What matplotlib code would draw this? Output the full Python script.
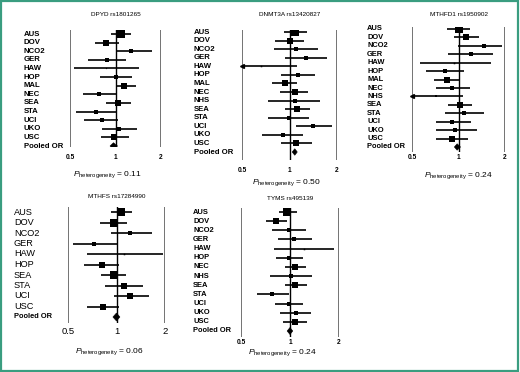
import matplotlib
matplotlib.use('Agg')
import matplotlib.pyplot as plt
from matplotlib.patches import Rectangle

plt.rcParams['font.family'] = ['Liberation Sans', 'DejaVu Sans']
plt.rcParams['mathtext.fontset'] = 'custom'
plt.rcParams['mathtext.rm'] = 'Liberation Sans'
plt.rcParams['mathtext.it'] = 'Liberation Sans:italic'

W, H = 520, 372

# ---- data ----
dpyd_names = ['AUS', 'DOV', 'NCO2', 'GER', 'HAW', 'HOP', 'MAL', 'NEC', 'SEA', 'STA', 'UCI', 'UKO', 'USC']
dpyd_or = [1.08, 0.87, 1.27, 0.88, 0.87, 1.00, 1.13, 0.78, 1.04, 0.74, 0.81, 1.05, 0.98]
dpyd_lo = [0.93, 0.73, 1.00, 0.66, 0.53, 0.79, 1.00, 0.61, 0.87, 0.55, 0.62, 0.81, 0.80]
dpyd_hi = [1.27, 1.06, 1.75, 1.18, 1.43, 1.29, 1.37, 1.00, 1.26, 1.00, 1.04, 1.39, 1.22]
dpyd_wt = [6, 5, 3.3, 3, 1, 3.7, 4.7, 4, 5.3, 3.7, 3.7, 3.3, 4.3]
dpyd_pooled = [0.97, 0.92, 1.03]

dnmt_names = ['AUS', 'DOV', 'NCO2', 'GER', 'HAW', 'HOP', 'MAL', 'NEC', 'NHS', 'SEA', 'STA', 'UCI', 'UKO', 'USC']
dnmt_or = [1.09, 1.00, 1.10, 1.28, 0.66, 1.13, 0.93, 1.08, 1.08, 1.12, 0.99, 1.41, 0.91, 1.10]
dnmt_lo = [0.92, 0.81, 0.80, 0.94, 0.45, 0.88, 0.77, 0.87, 0.73, 0.93, 0.73, 1.10, 0.67, 0.88]
dnmt_hi = [1.29, 1.23, 1.51, 1.74, 1.11, 1.46, 1.12, 1.31, 1.57, 1.35, 1.33, 1.87, 1.21, 1.38]
dnmt_wt = [6, 5, 3, 3.3, 1.3, 3.7, 5, 4.3, 2.7, 5.7, 3.7, 4, 3.7, 4.3]
dnmt_pooled = [1.08, 1.04, 1.12]

mthfd_names = ['AUS', 'DOV', 'NCO2', 'GER', 'HAW', 'HOP', 'MAL', 'NEC', 'NHS', 'SEA', 'STA', 'UCI', 'UKO', 'USC']
mthfd_or = [1.00, 1.11, 1.47, 1.21, 0.94, 0.82, 0.84, 0.91, 0.71, 1.02, 1.09, 0.91, 0.95, 0.91]
mthfd_lo = [0.84, 0.93, 0.99, 0.86, 0.56, 0.62, 0.69, 0.72, 0.45, 0.86, 0.82, 0.71, 0.72, 0.72]
mthfd_hi = [1.19, 1.35, 1.92, 1.66, 1.62, 1.08, 1.02, 1.19, 1.07, 1.23, 1.46, 1.21, 1.31, 1.15]
mthfd_wt = [6, 5.3, 3.3, 3.3, 1.3, 3.7, 5, 4, 2.3, 5.7, 3.3, 4, 4, 4.3]
mthfd_pooled = [0.98, 0.94, 1.03]

mthfs_names = ['AUS', 'DOV', 'NCO2', 'GER', 'HAW', 'HOP', 'SEA', 'STA', 'UCI', 'USC']
mthfs_or = [1.07, 0.96, 1.22, 0.73, 1.12, 0.81, 0.96, 1.11, 1.22, 0.83]
mthfs_lo = [0.92, 0.79, 0.92, 0.54, 0.66, 0.63, 0.80, 0.85, 0.96, 0.66]
mthfs_hi = [1.25, 1.17, 1.65, 1.00, 1.93, 1.04, 1.15, 1.46, 1.58, 1.03]
mthfs_wt = [6.7, 6, 3.7, 3.3, 1.3, 4.7, 6, 4.3, 4.7, 5]
mthfs_pooled = [1.00, 0.95, 1.05]

tyms_names = ['AUS', 'DOV', 'NCO2', 'GER', 'HAW', 'HOP', 'NEC', 'NHS', 'SEA', 'STA', 'UCI', 'UKO', 'USC']
tyms_or = [0.96, 0.82, 0.99, 1.06, 1.22, 0.99, 1.08, 1.01, 1.08, 0.77, 0.98, 1.09, 1.07]
tyms_lo = [0.85, 0.71, 0.77, 0.84, 0.80, 0.82, 0.93, 0.75, 0.93, 0.63, 0.81, 0.87, 0.91]
tyms_hi = [1.10, 0.96, 1.26, 1.37, 1.86, 1.21, 1.26, 1.36, 1.28, 0.98, 1.21, 1.35, 1.28]
tyms_wt = [6.7, 5.7, 3, 3.3, 1.3, 4, 5.3, 2.7, 5.7, 4, 3.7, 4, 5]
tyms_pooled = [1.00, 0.96, 1.04]

titles = ['DPYD rs1801265', 'DNMT3A rs13420827', 'MTHFD1 rs1950902', 'MTHFS rs17284990', 'TYMS rs495139']
p_het = ['0.11', '0.50', '0.24', '0.06', '0.24']
ticks = [0.5, 1, 2]

# layout in pixels: x(0.5), x(2), line top, line bottom, first row y, last row y,
# label x, tick y, title y, p-het centre x, p-het y, label size, label weight, tick size
layout = [
    (70, 161, 30, 147, 34, 146, 24, 157, 15, 107, 175, 5.6, 'bold', 4.8),
    (242, 337, 30, 160, 32, 152, 194, 170, 15, 286, 183, 5.6, 'bold', 4.8),
    (412, 505, 27, 152, 29, 147, 367, 157, 15, 458, 176, 5.4, 'bold', 4.8),
    (68, 165, 207, 323, 212, 317, 14, 332, 197, 109, 352, 6.6, 'normal', 6.8),
    (241, 339, 208, 337, 212, 331, 193, 342, 198, 282, 353, 5.4, 'bold', 4.8),
]


def fx(x):
    return x / W


def fy(y):
    return 1 - y / H


def draw_panel(fig, names, est, lo, hi, wt, pooled, title, phet, lay):
    x05, x2, top, bot, r0, r1, lab_x, tick_y, title_y, px, py, lsize, lweight, tsize = lay
    ax = fig.add_axes([fx(x05), fy(bot), (x2 - x05) / W, (bot - top) / H])
    ax.set_xscale('log')
    ax.set_xlim(0.5, 2)
    n = len(names) + 1
    step = (r1 - r0) / (n - 1)
    ax.set_ylim((bot - r0) / step, (top - r0) / step)
    ax.axis('off')
    ax.axvline(0.5, color='#4d4d4d', lw=1.1)
    ax.axvline(2, color='#4d4d4d', lw=1.1)
    ax.axvline(1, color='black', lw=1.0)

    for i in range(len(names)):
        a = max(lo[i], 0.5)
        b = min(hi[i], 2)
        ax.plot([a, b], [i, i], color='black', lw=1.2, solid_capstyle='butt')
        if lo[i] < 0.5:
            ax.plot(0.5, i, marker='<', ms=2.8, color='black', clip_on=False)
        ax.plot(est[i], i, marker='s', ms=wt[i] * 0.85, color='black', mec='black', mew=0)
        fig.text(fx(lab_x), fy(r0 + i * step), names[i], fontsize=lsize,
                 fontweight=lweight, va='center', ha='left')

    # pooled diamond
    k = len(names)
    p, plo, phi = pooled
    ax.fill([plo, p, phi, p], [k, k - 0.38, k, k + 0.38], color='black', lw=0.4)
    fig.text(fx(lab_x), fy(r0 + k * step), 'Pooled OR', fontsize=5.4 if lweight == 'normal' else lsize,
             fontweight='bold', va='center', ha='left')

    for t in ticks:
        xt = x05 + (x2 - x05) * (0.5 if t == 1 else (0 if t == 0.5 else 1))
        fig.text(fx(xt), fy(tick_y), str(t), fontsize=tsize, fontweight=lweight,
                 ha='center', va='center')

    fig.text(fx((x05 + x2) / 2), fy(title_y), title, fontsize=4.6, ha='center', va='center')
    fig.text(fx(px), fy(py), r'$P_{\mathrm{heterogeneity}}$ = ' + phet, fontsize=6,
             ha='center', va='center')


fig = plt.figure(figsize=(W / 100, H / 100), dpi=100)
fig.patch.set_facecolor('white')

draw_panel(fig, dpyd_names, dpyd_or, dpyd_lo, dpyd_hi, dpyd_wt, dpyd_pooled, titles[0], p_het[0], layout[0])
draw_panel(fig, dnmt_names, dnmt_or, dnmt_lo, dnmt_hi, dnmt_wt, dnmt_pooled, titles[1], p_het[1], layout[1])
draw_panel(fig, mthfd_names, mthfd_or, mthfd_lo, mthfd_hi, mthfd_wt, mthfd_pooled, titles[2], p_het[2], layout[2])
draw_panel(fig, mthfs_names, mthfs_or, mthfs_lo, mthfs_hi, mthfs_wt, mthfs_pooled, titles[3], p_het[3], layout[3])
draw_panel(fig, tyms_names, tyms_or, tyms_lo, tyms_hi, tyms_wt, tyms_pooled, titles[4], p_het[4], layout[4])

fig.patches.append(Rectangle((0.002, 0.003), 0.995, 0.993, transform=fig.transFigure,
                             fill=False, edgecolor='#3a9d80', lw=1.6))

fig.savefig('out.png', dpi=100)
